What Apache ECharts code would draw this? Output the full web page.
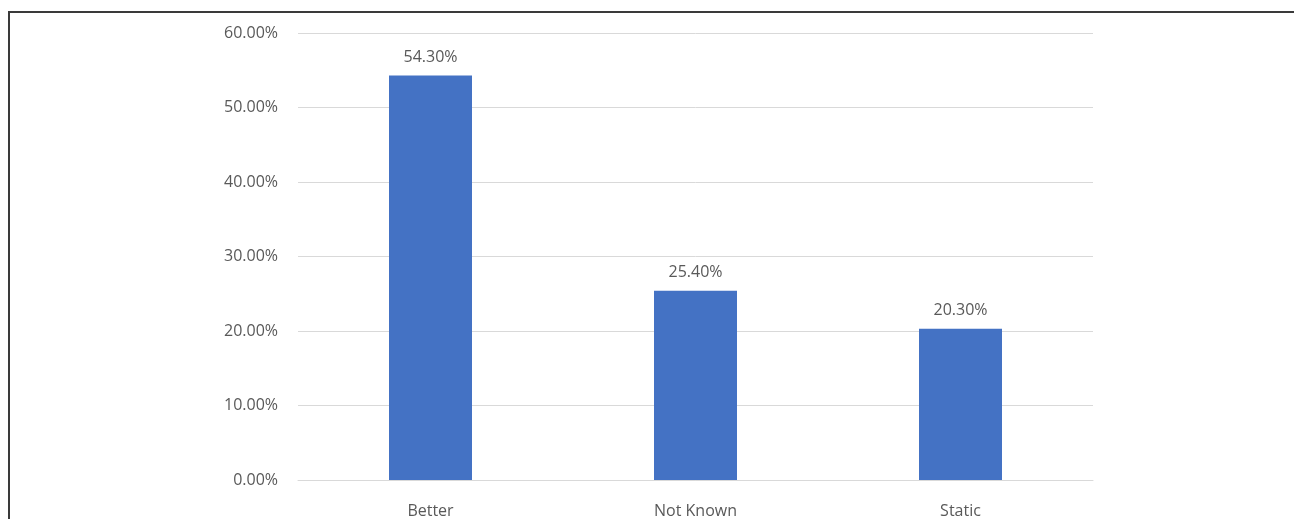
<!DOCTYPE html>
<html>
<head>
<meta charset="utf-8">
<script src="https://cdn.jsdelivr.net/npm/echarts@6/dist/echarts.min.js"></script>
<style>
html,body{margin:0;padding:0;background:#fff;}
#chart{width:1294px;height:519px;}
</style>
</head>
<body>
<div id="chart"></div>
<script>
const categories = ["Better", "Not Known", "Static"];
const values = [54.3, 25.4, 20.3];
const yTicks = { min: 0, max: 60, interval: 10 };

const chart = echarts.init(document.getElementById('chart'), null, { renderer: 'canvas' });
const font = '"Open Sans", "Liberation Sans", Arial, sans-serif';
chart.setOption({
  animation: false,
  backgroundColor: '#fff',
  graphic: [{
    type: 'rect',
    shape: { x: 9, y: 12, width: 1400, height: 600 },
    style: { fill: 'none', stroke: '#3a3a3a', lineWidth: 2 },
    silent: true
  }],
  grid: { left: 298, right: 201, top: 33, bottom: 39, containLabel: false },
  xAxis: {
    type: 'category',
    data: categories,
    axisLine: { show: true, lineStyle: { color: '#d9d9d9', width: 1 } },
    axisTick: { show: false },
    axisLabel: { color: '#595959', fontSize: 16, fontFamily: font, margin: 23 }
  },
  yAxis: {
    type: 'value',
    min: yTicks.min, max: yTicks.max, interval: yTicks.interval,
    axisLine: { show: false },
    axisTick: { show: false },
    splitLine: { lineStyle: { color: '#d9d9d9', width: 1 } },
    axisLabel: { color: '#595959', fontSize: 16, fontFamily: font, margin: 20,
      formatter: v => v.toFixed(2) + '%' }
  },
  series: [{
    type: 'bar',
    data: values,
    barWidth: 83,
    itemStyle: { color: '#4472C4' },
    label: { show: true, position: 'top', distance: 10, color: '#595959', fontSize: 16,
      fontFamily: font, formatter: p => p.value.toFixed(2) + '%' }
  }]
});
</script>
</body>
</html>
